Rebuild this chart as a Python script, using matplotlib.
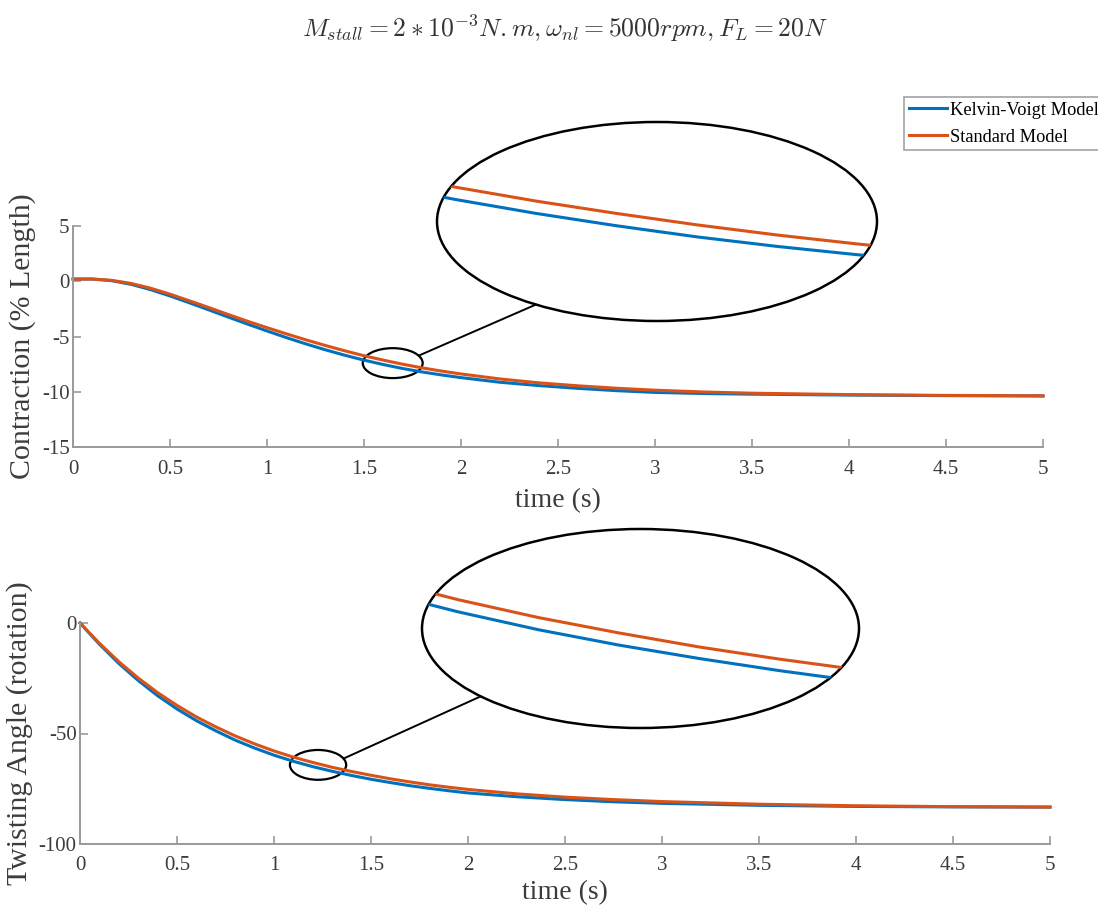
import numpy as np
import matplotlib
matplotlib.use("Agg")
import matplotlib.pyplot as plt
from matplotlib.patches import Ellipse, ConnectionPatch

plt.rcParams['font.family'] = ['Liberation Serif', 'DejaVu Serif']
plt.rcParams['mathtext.fontset'] = 'cm'
plt.rcParams['axes.unicode_minus'] = False

# --- contraction (% length) vs time ---
t_con = [0.0, 0.1, 0.2, 0.3, 0.4, 0.5, 0.6, 0.7, 0.8, 0.9, 1.0, 1.1, 1.2, 1.3, 1.4,
         1.5, 1.6, 1.7, 1.8, 1.9, 2.0, 2.2, 2.4, 2.6, 2.8, 3.0, 3.25, 3.5, 4.0, 4.5, 5.0]
con_kv = [0.2, 0.2, 0.05, -0.28, -0.76, -1.33, -1.95, -2.59, -3.24, -3.88, -4.5, -5.1,
          -5.67, -6.2, -6.69, -7.14, -7.54, -7.9, -8.21, -8.48, -8.72, -9.14, -9.44,
          -9.69, -9.9, -10.06, -10.16, -10.22, -10.3, -10.35, -10.38]
con_std = [0.2, 0.2, 0.08, -0.2, -0.63, -1.17, -1.77, -2.38, -3.01, -3.62, -4.2, -4.76,
           -5.3, -5.81, -6.29, -6.74, -7.14, -7.51, -7.84, -8.13, -8.39, -8.84, -9.19,
           -9.46, -9.68, -9.86, -10.02, -10.13, -10.26, -10.33, -10.37]

# --- twisting angle (rotation) vs time ---
t_tw = [0.0, 0.1, 0.2, 0.3, 0.4, 0.5, 0.6, 0.7, 0.8, 0.9, 1.0, 1.1, 1.2, 1.3, 1.4,
        1.5, 1.6, 1.7, 1.8, 1.9, 2.0, 2.25, 2.5, 2.75, 3.0, 3.5, 4.0, 4.5, 5.0]
tw_kv = [0.0, -9.6, -18.3, -26.0, -32.9, -38.9, -44.2, -48.8, -53.0, -56.6, -59.8, -62.6,
         -65.0, -67.1, -69.0, -70.7, -72.2, -73.6, -74.8, -75.9, -76.9, -78.6, -79.9,
         -80.9, -81.6, -82.5, -83.0, -83.2, -83.3]
tw_std = [0.0, -9.2, -17.5, -24.9, -31.5, -37.3, -42.5, -47.0, -51.1, -54.7, -57.9, -60.7,
          -63.1, -65.3, -67.2, -68.9, -70.5, -71.9, -73.2, -74.3, -75.3, -77.3, -78.8,
          -79.9, -80.8, -82.0, -82.7, -83.1, -83.3]

xticks = [0, 0.5, 1, 1.5, 2, 2.5, 3, 3.5, 4, 4.5, 5]
xticklabels = ['0', '0.5', '1', '1.5', '2', '2.5', '3', '3.5', '4', '4.5', '5']

C_KV = '#0072BD'
C_STD = '#D95319'
AX_GREY = '#9a9a9a'
TXT_GREY = '#3c3c3c'

W, H = 1098, 908
fig = plt.figure(figsize=(W / 100, H / 100), dpi=100)


def px_rect(x0, y0, x1, y1):
    # pixel box (top-left origin) -> figure fraction rect
    return [x0 / W, 1 - y1 / H, (x1 - x0) / W, (y1 - y0) / H]


def style_axes(ax, yticks, ylabel, xpad):
    for s in ('top', 'right'):
        ax.spines[s].set_visible(False)
    for s in ('left', 'bottom'):
        ax.spines[s].set_color(AX_GREY)
        ax.spines[s].set_linewidth(1.4)
    ax.set_xlim(0, 5)
    ax.set_xticks(xticks)
    ax.set_xticklabels(xticklabels)
    ax.set_yticks(yticks)
    ax.set_yticklabels([str(v) for v in yticks])
    ax.tick_params(direction='in', length=6, width=1.2, color=AX_GREY,
                   labelcolor=TXT_GREY, labelsize=15)
    ax.tick_params(axis='x', pad=9)
    ax.tick_params(axis='y', pad=2.5)
    ax.set_xlabel('time (s)', fontsize=20, color=TXT_GREY, labelpad=xpad)
    ax.set_ylabel(ylabel, fontsize=21.5, color=TXT_GREY, labelpad=4)


def zoom_bubble(ax, rect, t, y_kv, y_std, xlim, ylim, small, th_small, th_big):
    # magnified view drawn inside an ellipse, linked to a small ellipse on the main axes
    ins = fig.add_axes(rect)
    ins.set_axis_off()
    ins.patch.set_alpha(0)
    ell = Ellipse((0.5, 0.5), 1, 1, transform=ins.transAxes, fill=False,
                  edgecolor='black', lw=1.8, clip_on=False)
    ins.add_patch(ell)
    for y, c in ((y_kv, C_KV), (y_std, C_STD)):
        ln, = ins.plot(t, y, color=c, lw=2.2)
        ln.set_clip_path(ell)
    ins.set_xlim(*xlim)
    ins.set_ylim(*ylim)

    (cx, cy), w, h = small
    ax.add_patch(Ellipse((cx, cy), w, h, fill=False, edgecolor='black', lw=1.6, clip_on=False))
    a = np.deg2rad(th_small)
    b = np.deg2rad(th_big)
    p_small = (cx + w / 2 * np.cos(a), cy + h / 2 * np.sin(a))
    p_big = (0.5 + 0.5 * np.cos(b), 0.5 + 0.5 * np.sin(b))
    con = ConnectionPatch(xyA=p_small, coordsA=ax.transData,
                          xyB=p_big, coordsB=ins.transAxes,
                          color='black', lw=1.4)
    fig.add_artist(con)


# top: contraction
ax1 = fig.add_axes(px_rect(73, 226, 1043, 447))
ax1.plot(t_con, con_kv, color=C_KV, lw=2.2, label='Kelvin-Voigt Model', clip_on=False)
ax1.plot(t_con, con_std, color=C_STD, lw=2.2, label='Standard Model', clip_on=False)
ax1.set_ylim(-15, 5)
style_axes(ax1, [-15, -10, -5, 0, 5], 'Contraction (% Length)', 7)

# bottom: twisting angle
ax2 = fig.add_axes(px_rect(80, 623, 1050, 844))
ax2.plot(t_tw, tw_kv, color=C_KV, lw=2.2, clip_on=False)
ax2.plot(t_tw, tw_std, color=C_STD, lw=2.2, clip_on=False)
ax2.set_ylim(-100, 0)
style_axes(ax2, [-100, -50, 0], 'Twisting Angle (rotation)', 3)

zoom_bubble(ax1, px_rect(437, 122, 877, 321), t_con, con_kv, con_std,
            (1.376, 1.924), (-10.63, -4.17), ((1.648, -7.41), 0.309, 2.71), 30, 236.6)
zoom_bubble(ax2, px_rect(422, 529, 859, 728), t_tw, tw_kv, tw_std,
            (0.955, 1.498), (-77.95, -46.85), ((1.227, -64.2), 0.29, 13.5), 25, 223)

fig.text(0.5146, 0.969,
         r'$M_{stall} = 2 * 10^{-3} N.m, \omega_{nl} = 5000 rpm, F_L = 20N$',
         ha='center', va='center', fontsize=18.5, color='#333333')

leg = fig.legend(loc='upper left', bbox_to_anchor=(904 / W, 1 - 97 / H),
                 fontsize=13.2, frameon=True, fancybox=False, borderaxespad=0,
                 handlelength=2.1, handletextpad=0.15, labelspacing=0.55,
                 borderpad=0.25)
leg.get_frame().set_edgecolor('#8a8a8a')
leg.get_frame().set_linewidth(1.2)

fig.savefig('out.png', dpi=100)
